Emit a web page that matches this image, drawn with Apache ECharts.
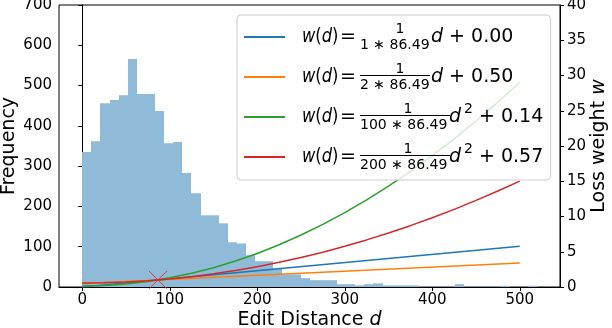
<!DOCTYPE html>
<html>
<head>
<meta charset="utf-8">
<script src="https://cdn.jsdelivr.net/npm/echarts@6/dist/echarts.min.js"></script>
<style>
  html, body { margin: 0; padding: 0; background: #fff; }
  #chart { width: 612px; height: 328px; }
</style>
</head>
<body>
<div id="chart"></div>
<script>
// histogram of edit distances (50 bins)
var binStart = 0;
var binWidth = 10.4;
var histCounts = [335, 362, 456, 464, 476, 566, 479, 479, 437, 357,
                  360, 283, 233, 178, 178, 158, 111, 108, 79, 64,
                  64, 46, 31, 31, 22, 17, 17, 17, 7, 7,
                  4, 7, 9, 4, 4, 4, 4, 1, 1, 1,
                  1, 7, 1, 1, 1, 1, 3, 0, 0, 3];

// loss weight curves (right axis)
var linearD = [0, 500];
var blueW = [0.00, 5.78];
var orangeW = [0.50, 3.39];
var curveD = [0, 25, 50, 75, 100, 125, 150, 175, 200, 225, 250,
              275, 300, 325, 350, 375, 400, 425, 450, 475, 500];
var greenW = [0.14, 0.21, 0.43, 0.79, 1.30, 1.95, 2.74, 3.68, 4.76, 5.99, 7.37,
              8.88, 10.55, 12.35, 14.30, 16.40, 18.64, 21.02, 23.55, 26.23, 29.05];
var redW = [0.57, 0.61, 0.71, 0.90, 1.15, 1.47, 1.87, 2.34, 2.88, 3.50, 4.18,
            4.94, 5.77, 6.68, 7.65, 8.70, 9.82, 11.01, 12.28, 13.61, 15.02];
var crossPoint = [86.49, 1.0];

var xTicks = [0, 100, 200, 300, 400, 500];
var names = ['w1', 'w2', 'w3', 'w4'];
var colors = ['#1f77b4', '#ff7f0e', '#2ca02c', '#d62728'];
var legendDen = ['1 \u2217 86.49', '2 \u2217 86.49', '100 \u2217 86.49', '200 \u2217 86.49'];
var legendPow = ['', '', '2', '2'];
var legendConst = ['0.00', '0.50', '0.14', '0.57'];

var FONT = '"DejaVu Sans", sans-serif';

function pairs(xs, ys) {
  var out = [];
  for (var i = 0; i < xs.length; i++) out.push([xs[i], ys[i]]);
  return out;
}

var histData = [];
for (var i = 0; i < histCounts.length; i++) {
  histData.push([binStart + i * binWidth, binStart + (i + 1) * binWidth, histCounts[i]]);
}

// formula text of the legend (drawn on top of the legend box)
var ital = { i: { font: 'italic 19px ' + FONT, fill: '#000' } };
var graphics = [];
for (var r = 0; r < 4; r++) {
  var cy = 37 + 40 * r;
  var wide = legendPow[r] !== '';
  graphics.push({
    type: 'text', z: 100, x: 302, y: cy, scaleX: 0.86,
    style: { text: '{i|w}({i|d})', font: '19px ' + FONT, fill: '#000', textVerticalAlign: 'middle', rich: ital }
  });
  graphics.push({
    type: 'text', z: 100, x: 340, y: cy,
    style: { text: '=', font: '19px ' + FONT, fill: '#000', textVerticalAlign: 'middle' }
  });
  graphics.push({
    type: 'text', z: 100, x: wide ? 408 : 400, y: cy - 7.5,
    style: { text: '1', font: '14px ' + FONT, fill: '#000', textAlign: 'center', textVerticalAlign: 'middle' }
  });
  if (r > 0) {
    graphics.push({
      type: 'line', z: 100,
      shape: { x1: 360, y1: cy - 1.5, x2: wide ? 450 : 430, y2: cy - 1.5 },
      style: { stroke: '#000', lineWidth: 1 }
    });
  }
  graphics.push({
    type: 'text', z: 100, x: 360, y: cy + 8,
    style: { text: legendDen[r], font: '14px ' + FONT, fill: '#000', textVerticalAlign: 'middle' }
  });
  if (wide) {
    graphics.push({
      type: 'text', z: 100, x: 449, y: cy,
      style: { text: '{i|d}', font: '19px ' + FONT, fill: '#000', textVerticalAlign: 'middle', rich: ital }
    });
    graphics.push({
      type: 'text', z: 100, x: 464, y: cy - 8,
      style: { text: legendPow[r], font: '14px ' + FONT, fill: '#000', textVerticalAlign: 'middle' }
    });
    graphics.push({
      type: 'text', z: 100, x: 479, y: cy,
      style: { text: '+ ' + legendConst[r], font: '19px ' + FONT, fill: '#000', textVerticalAlign: 'middle' }
    });
  } else {
    graphics.push({
      type: 'text', z: 100, x: 431, y: cy,
      style: { text: '{i|d} + ' + legendConst[r], font: '19px ' + FONT, fill: '#000', textVerticalAlign: 'middle', rich: ital }
    });
  }
}

var chart = echarts.init(document.getElementById('chart'));
var axisLine = { show: true, lineStyle: { color: '#000', width: 1 } };
var option = {
  animation: false,
  textStyle: { fontFamily: FONT },
  grid: { left: 59, right: 52, top: 5, bottom: 41, show: true, borderColor: '#000', borderWidth: 1,
          containLabel: false, outerBoundsMode: 'none' },
  legend: {
    left: 237, top: 15, orient: 'vertical',
    padding: [21, 260, 22, 7], itemGap: 38, itemWidth: 41, itemHeight: 2,
    icon: 'rect', selectedMode: false,
    backgroundColor: 'rgba(255,255,255,0.8)', borderColor: '#cccccc', borderWidth: 1, borderRadius: 4,
    formatter: function () { return ' '; },
    textStyle: { fontSize: 2, lineHeight: 2 },
    data: names
  },
  xAxis: {
    type: 'value', min: -26.6, max: 546,
    axisLine: axisLine,
    axisTick: { show: true, length: 4, customValues: xTicks, lineStyle: { color: '#000' } },
    axisLabel: { customValues: xTicks, fontSize: 15, color: '#000', margin: 6, fontFamily: FONT },
    splitLine: { show: false },
    name: 'Edit Distance {i|d}', nameLocation: 'middle', nameGap: 24, nameMoveOverlap: false,
    nameTextStyle: { fontSize: 19, color: '#000', fontFamily: FONT,
      rich: { i: { fontSize: 19, fontStyle: 'italic', color: '#000', fontFamily: FONT } } }
  },
  yAxis: [{
    type: 'value', position: 'left', min: 0, max: 700, interval: 100,
    axisLine: axisLine,
    axisTick: { show: true, length: 4, lineStyle: { color: '#000' } },
    axisLabel: { fontSize: 15, color: '#000', margin: 7, fontFamily: FONT },
    splitLine: { show: false },
    name: 'Frequency', nameLocation: 'middle', nameGap: 40, nameRotate: 90, nameMoveOverlap: false,
    nameTextStyle: { fontSize: 19, color: '#000', fontFamily: FONT }
  }, {
    type: 'value', position: 'right', min: 0, max: 40, interval: 5,
    axisLine: axisLine,
    axisTick: { show: true, length: 4, lineStyle: { color: '#000' } },
    axisLabel: { fontSize: 15, color: '#000', margin: 7, fontFamily: FONT },
    splitLine: { show: false },
    name: 'Loss weight {i|w}', nameLocation: 'middle', nameGap: 30, nameRotate: 90, nameMoveOverlap: false,
    nameTextStyle: { fontSize: 19, color: '#000', fontFamily: FONT,
      rich: { i: { fontSize: 19, fontStyle: 'italic', color: '#000', fontFamily: FONT } } }
  }],
  series: [
    {
      type: 'custom', name: 'hist', xAxisIndex: 0, yAxisIndex: 0, z: 1,
      encode: { x: [0, 1], y: 2 },
      renderItem: function (params, api) {
        var p0 = api.coord([api.value(0), 0]);
        var p1 = api.coord([api.value(1), api.value(2)]);
        var x0 = Math.round(p0[0]), x1 = Math.round(p1[0]);
        return {
          type: 'rect',
          shape: { x: x0, y: p1[1], width: x1 - x0, height: p0[1] - p1[1] },
          style: { fill: '#8fbbd9' }
        };
      },
      data: histData
    },
    { type: 'line', name: names[0], yAxisIndex: 1, color: colors[0], symbol: 'none', z: 3,
      lineStyle: { width: 1.5 }, data: pairs(linearD, blueW) },
    { type: 'line', name: names[1], yAxisIndex: 1, color: colors[1], symbol: 'none', z: 3,
      lineStyle: { width: 1.5 }, data: pairs(linearD, orangeW) },
    { type: 'line', name: names[2], yAxisIndex: 1, color: colors[2], symbol: 'none', z: 3,
      lineStyle: { width: 1.5 }, data: pairs(curveD, greenW) },
    { type: 'line', name: names[3], yAxisIndex: 1, color: colors[3], symbol: 'none', z: 3,
      lineStyle: { width: 1.5 }, data: pairs(curveD, redW) },
    { type: 'scatter', name: 'cross', yAxisIndex: 1, z: 5,
      symbol: 'path://M0,0L10,10M10,0L0,10', symbolSize: 18,
      itemStyle: { color: 'none', borderColor: '#d62728', borderWidth: 1, opacity: 0.8 },
      data: [crossPoint] }
  ],
  graphic: graphics
};
chart.setOption(option);
</script>
</body>
</html>
